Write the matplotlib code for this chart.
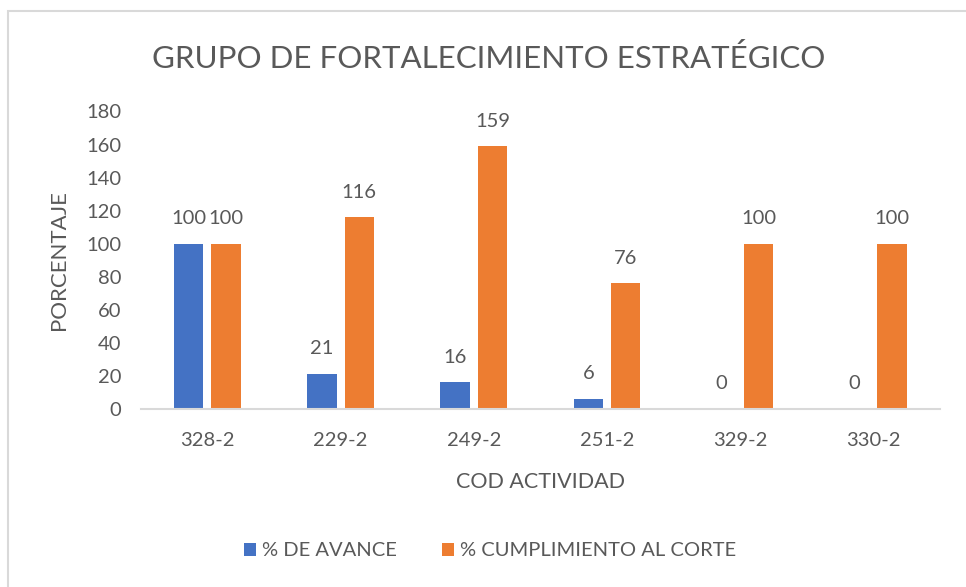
import matplotlib
matplotlib.use("Agg")
import matplotlib.pyplot as plt
from matplotlib.patches import Rectangle
import numpy as np

categories = ["328-2", "229-2", "249-2", "251-2", "329-2", "330-2"]
avance = [100, 21, 16, 6, 0, 0]
cumplimiento = [100, 116, 159, 76, 100, 100]
yticks = [0, 20, 40, 60, 80, 100, 120, 140, 160, 180]

BLUE = "#4472C4"
ORANGE = "#ED7D31"
TEXT = "#595959"
GRID = "#D9D9D9"

plt.rcParams['font.family'] = ['Lato', 'DejaVu Sans']

W, H = 966, 587
fig = plt.figure(figsize=(W / 100, H / 100), dpi=100)
fig.patch.set_facecolor("white")

# chart border (top & left visible)
fig.patches.append(Rectangle((8 / W, -0.1), 2.0, (1 - 11 / H) + 0.1,
                             transform=fig.transFigure, fill=False,
                             edgecolor=GRID, linewidth=1.5))

ax = fig.add_axes([140.7 / W, 1 - 408.7 / H, (940 - 140.7) / W, (408.7 - 111.5) / H])
x = np.arange(len(categories))
w = 0.22
off = 0.14
b1 = ax.bar(x - off, avance, w, color=BLUE, label="% DE AVANCE")
b2 = ax.bar(x + off, cumplimiento, w, color=ORANGE, label="% CUMPLIMIENTO AL CORTE")

for bars, vals in ((b1, avance), (b2, cumplimiento)):
    for r, v in zip(bars, vals):
        ax.annotate(f"{v}", (r.get_x() + r.get_width() / 2, r.get_height()),
                    xytext=(0, 12), textcoords="offset points",
                    ha="center", va="bottom", fontsize=14.5, color=TEXT)

ax.set_xlim(-0.5, len(categories) - 0.5)
ax.set_ylim(0, 180)
ax.set_yticks(yticks)
ax.set_xticks(x)
ax.set_xticklabels(categories)
ax.tick_params(axis="both", length=0, labelsize=14.5, colors=TEXT)
ax.tick_params(axis="x", pad=17)
ax.tick_params(axis="y", pad=14)
for s in ("top", "right", "left"):
    ax.spines[s].set_visible(False)
ax.spines["bottom"].set_color(GRID)
ax.spines["bottom"].set_linewidth(1.5)

ax.set_xlabel("COD ACTIVIDAD", fontsize=15.5, color=TEXT, labelpad=16)
ax.set_ylabel("PORCENTAJE", fontsize=16, color=TEXT, labelpad=12)

fig.text(489 / W, 1 - 58 / H, "GRUPO DE FORTALECIMIENTO ESTRATÉGICO",
         ha="center", va="center", fontsize=22.5, color=TEXT)

fig.legend(handles=[b1, b2], loc="center", bbox_to_anchor=(490 / W, 1 - 551 / H),
           ncol=2, frameon=False, fontsize=14.5, labelcolor=TEXT,
           handlelength=0.6, handleheight=0.6, columnspacing=2.2, handletextpad=0.3)

fig.savefig("out.png", dpi=100, facecolor="white")
